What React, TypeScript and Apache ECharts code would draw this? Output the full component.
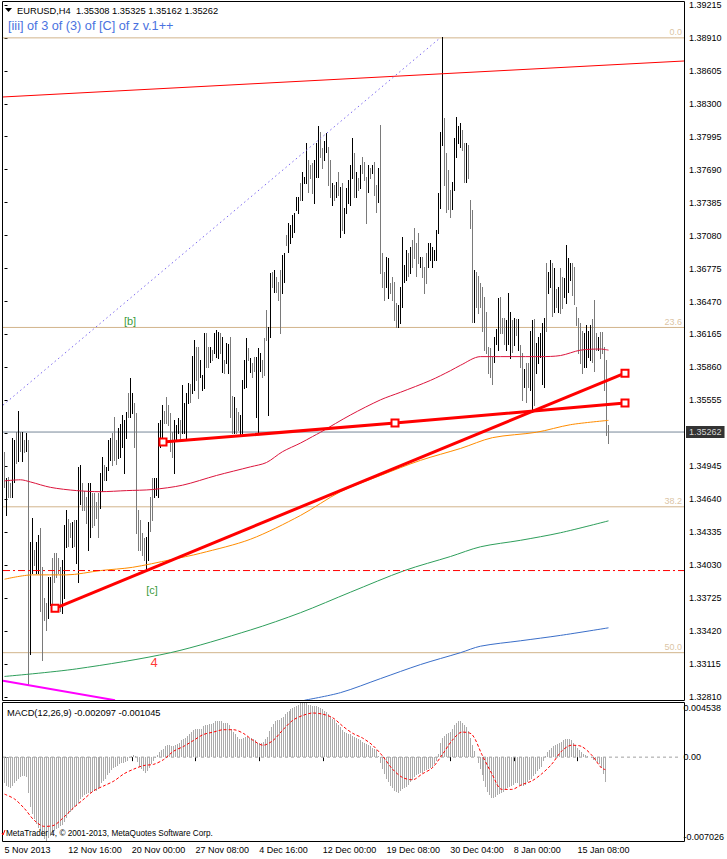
import React, { useEffect, useRef } from "react";
import * as echarts from "echarts";

// ---------- DATA ----------
const highs = [
  1.3508, 1.3484, 1.3485, 1.3479, 1.3521, 1.3519, 1.3526, 1.3546, 1.3526, 1.3526,
  1.3519, 1.3525, 1.3519, 1.3424, 1.3447, 1.3417, 1.3424, 1.3431, 1.3437, 1.3401,
  1.3373, 1.3368, 1.3392, 1.3392, 1.3410, 1.3414, 1.3414, 1.3410, 1.3401, 1.3408,
  1.3440, 1.3454, 1.3446, 1.3442, 1.3443, 1.3445, 1.3445, 1.3494, 1.3496, 1.3479,
  1.3472, 1.3466, 1.3479, 1.3479, 1.3470, 1.3470, 1.3461, 1.3470, 1.3488, 1.3503,
  1.3496, 1.3494, 1.3519, 1.3521, 1.3525, 1.3540, 1.3519, 1.3530, 1.3534, 1.3542,
  1.3537, 1.3545, 1.3562, 1.3576, 1.3562, 1.3553, 1.3544, 1.3454, 1.3445, 1.3433,
  1.3428, 1.3429, 1.3443, 1.3466, 1.3484, 1.3484, 1.3484, 1.3535, 1.3537, 1.3551,
  1.3546, 1.3559, 1.3551, 1.3544, 1.3526, 1.3537, 1.3533, 1.3539, 1.3537, 1.3570,
  1.3553, 1.3562, 1.3572, 1.3571, 1.3597, 1.3611, 1.3605, 1.3605, 1.3593, 1.3579,
  1.3618, 1.3618, 1.3605, 1.3605, 1.3602, 1.3618, 1.3621, 1.3619, 1.3618, 1.3614,
  1.3593, 1.3609, 1.3608, 1.3614, 1.3560, 1.3559, 1.3548, 1.3545, 1.3542, 1.3574,
  1.3593, 1.3613, 1.3604, 1.3595, 1.3590, 1.3596, 1.3596, 1.3604, 1.3599, 1.3593,
  1.3613, 1.3639, 1.3623, 1.3673, 1.3674, 1.3676, 1.3670, 1.3665, 1.3676, 1.3690,
  1.3692, 1.3709, 1.3720, 1.3718, 1.3727, 1.3729, 1.3744, 1.3744, 1.3757, 1.3767,
  1.3762, 1.3794, 1.3778, 1.3773, 1.3775, 1.3778, 1.3794, 1.3809, 1.3804, 1.3789,
  1.3796, 1.3803, 1.3790, 1.3778, 1.3757, 1.3755, 1.3758, 1.3767, 1.3753, 1.3757,
  1.3734, 1.3752, 1.3759, 1.3773, 1.3798, 1.3784, 1.3767, 1.3761, 1.3773, 1.3781,
  1.3776, 1.3762, 1.3773, 1.3771, 1.3773, 1.3776, 1.3755, 1.3771, 1.3810, 1.3692,
  1.3674, 1.3688, 1.3687, 1.3664, 1.3670, 1.3665, 1.3646, 1.3644, 1.3660, 1.3707,
  1.3681, 1.3695, 1.3692, 1.3697, 1.3704, 1.3715, 1.3701, 1.3710, 1.3688, 1.3688,
  1.3679, 1.3692, 1.3701, 1.3701, 1.3697, 1.3695, 1.3713, 1.3747, 1.3804, 1.3892,
  1.3817, 1.3784, 1.3769, 1.3750, 1.3758, 1.3798, 1.3818, 1.3809, 1.3812, 1.3806,
  1.3794, 1.3794, 1.3792, 1.3741, 1.3732, 1.3676, 1.3674, 1.3671, 1.3664, 1.3660,
  1.3651, 1.3637, 1.3605, 1.3604, 1.3596, 1.3614, 1.3622, 1.3650, 1.3651, 1.3632,
  1.3632, 1.3630, 1.3655, 1.3637, 1.3630, 1.3632, 1.3631, 1.3631, 1.3607, 1.3599,
  1.3585, 1.3590, 1.3590, 1.3620, 1.3630, 1.3631, 1.3609, 1.3614, 1.3618, 1.3627,
  1.3632, 1.3683, 1.3674, 1.3685, 1.3683, 1.3678, 1.3659, 1.3660, 1.3678, 1.3670,
  1.3669, 1.3699, 1.3687, 1.3683, 1.3683, 1.3679, 1.3642, 1.3632, 1.3627, 1.3620,
  1.3618, 1.3625, 1.3620, 1.3625, 1.3631, 1.3648, 1.3618, 1.3614, 1.3619, 1.3619,
  1.3605, 1.3593, 1.35325,
];

const lows = [
  1.3475, 1.3449, 1.3466, 1.3466, 1.3466, 1.3480, 1.3498, 1.3499, 1.3509, 1.3499,
  1.3508, 1.3509, 1.3293, 1.3321, 1.3396, 1.3403, 1.3396, 1.3396, 1.3361, 1.3315,
  1.3352, 1.3343, 1.3354, 1.3366, 1.3368, 1.3387, 1.3392, 1.3396, 1.3361, 1.3359,
  1.3373, 1.3420, 1.3421, 1.3429, 1.3420, 1.3421, 1.3405, 1.3387, 1.3460, 1.3454,
  1.3454, 1.3442, 1.3417, 1.3429, 1.3438, 1.3440, 1.3447, 1.3429, 1.3456, 1.3472,
  1.3482, 1.3482, 1.3491, 1.3500, 1.3496, 1.3500, 1.3497, 1.3502, 1.3503, 1.3512,
  1.3488, 1.3521, 1.3540, 1.3540, 1.3544, 1.3512, 1.3433, 1.3417, 1.3417, 1.3412,
  1.3408, 1.3398, 1.3408, 1.3435, 1.3445, 1.3466, 1.3468, 1.3466, 1.3512, 1.3516,
  1.3535, 1.3535, 1.3533, 1.3509, 1.3503, 1.3488, 1.3519, 1.3525, 1.3519, 1.3525,
  1.3525, 1.3519, 1.3553, 1.3554, 1.3562, 1.3565, 1.3574, 1.3558, 1.3577, 1.3565,
  1.3567, 1.3586, 1.3586, 1.3591, 1.3593, 1.3599, 1.3596, 1.3595, 1.3599, 1.3582,
  1.3581, 1.3590, 1.3581, 1.3540, 1.3525, 1.3525, 1.3525, 1.3528, 1.3523, 1.3525,
  1.3567, 1.3568, 1.3593, 1.3582, 1.3577, 1.3583, 1.3540, 1.3525, 1.3583, 1.3577,
  1.3579, 1.3611, 1.3542, 1.3614, 1.3660, 1.3656, 1.3656, 1.3648, 1.3618, 1.3655,
  1.3665, 1.3699, 1.3693, 1.3701, 1.3707, 1.3711, 1.3732, 1.3729, 1.3741, 1.3741,
  1.3757, 1.3757, 1.3748, 1.3761, 1.3747, 1.3738, 1.3762, 1.3762, 1.3781, 1.3771,
  1.3778, 1.3785, 1.3755, 1.3744, 1.3736, 1.3741, 1.3744, 1.3746, 1.3707, 1.3713,
  1.3710, 1.3729, 1.3738, 1.3736, 1.3761, 1.3744, 1.3744, 1.3750, 1.3752, 1.3766,
  1.3759, 1.3720, 1.3748, 1.3761, 1.3766, 1.3746, 1.3730, 1.3739, 1.3673, 1.3660,
  1.3648, 1.3660, 1.3650, 1.3655, 1.3648, 1.3630, 1.3623, 1.3623, 1.3627, 1.3642,
  1.3665, 1.3667, 1.3671, 1.3673, 1.3679, 1.3687, 1.3671, 1.3683, 1.3679, 1.3670,
  1.3655, 1.3664, 1.3679, 1.3685, 1.3679, 1.3685, 1.3685, 1.3710, 1.3734, 1.3792,
  1.3755, 1.3730, 1.3733, 1.3725, 1.3733, 1.3750, 1.3781, 1.3794, 1.3790, 1.3787,
  1.3758, 1.3758, 1.3761, 1.3715, 1.3628, 1.3628, 1.3642, 1.3636, 1.3642, 1.3620,
  1.3602, 1.3599, 1.3581, 1.3577, 1.3571, 1.3591, 1.3608, 1.3602, 1.3618, 1.3618,
  1.3608, 1.3602, 1.3608, 1.3595, 1.3600, 1.3607, 1.3616, 1.3602, 1.3586, 1.3556,
  1.3568, 1.3554, 1.3568, 1.3565, 1.3545, 1.3551, 1.3581, 1.3590, 1.3596, 1.3571,
  1.3568, 1.3620, 1.3655, 1.3660, 1.3634, 1.3637, 1.3642, 1.3637, 1.3636, 1.3641,
  1.3651, 1.3646, 1.3656, 1.3667, 1.3653, 1.3645, 1.3625, 1.3599, 1.3590, 1.3581,
  1.3586, 1.3586, 1.3596, 1.3593, 1.3591, 1.3583, 1.3602, 1.3602, 1.3595, 1.3599,
  1.3565, 1.3523, 1.35162,
];

// 1 = bull bar (black), 0 = bear bar (grey)
const upBars = [
  0, 1, 0, 0, 1, 1, 0, 1, 0, 1,
  0, 1, 0, 1, 1, 0, 1, 1, 0, 0,
  0, 0, 1, 1, 0, 0, 0, 0, 0, 1,
  1, 1, 0, 0, 1, 0, 1, 1, 1, 0,
  0, 0, 1, 1, 0, 0, 0, 0, 1, 1,
  0, 1, 1, 1, 0, 0, 0, 1, 1, 1,
  1, 1, 0, 1, 1, 0, 0, 0, 0, 0,
  0, 1, 1, 0, 0, 1, 1, 1, 1, 1,
  0, 0, 0, 0, 0, 1, 1, 1, 0, 1,
  1, 1, 1, 0, 1, 1, 0, 0, 1, 1,
  1, 0, 0, 1, 0, 1, 1, 1, 0, 1,
  0, 1, 1, 0, 0, 1, 0, 0, 1, 1,
  1, 1, 0, 1, 0, 0, 1, 1, 1, 0,
  0, 0, 1, 1, 0, 1, 0, 0, 0, 1,
  1, 0, 1, 1, 1, 1, 1, 1, 0, 1,
  1, 1, 0, 0, 0, 1, 1, 1, 0, 0,
  1, 1, 0, 0, 1, 0, 1, 0, 1, 0,
  1, 1, 1, 1, 1, 0, 1, 0, 1, 0,
  0, 0, 1, 0, 1, 0, 0, 1, 0, 0,
  0, 1, 1, 0, 0, 0, 0, 1, 1, 1,
  1, 1, 0, 1, 0, 0, 0, 0, 1, 0,
  0, 0, 1, 1, 1, 1, 1, 1, 1, 1,
  0, 0, 0, 0, 1, 1, 1, 1, 1, 0,
  0, 1, 0, 0, 0, 1, 0, 0, 0, 0,
  0, 0, 0, 0, 0, 1, 1, 1, 0, 0,
  0, 1, 1, 1, 0, 1, 0, 1, 0, 0,
  1, 0, 0, 1, 1, 0, 1, 1, 1, 1,
  1, 0, 1, 1, 0, 1, 0, 1, 0, 0,
  1, 1, 1, 1, 0, 0, 0, 0, 0, 0,
  1, 1, 1, 1, 0, 0, 0, 1, 0, 0,
  0, 0, 0,
];

const macdMain = [
  -0.0022, -0.0024, -0.0025, -0.0026, -0.0024, -0.0022, -0.0020, -0.0018, -0.0017, -0.0016, -0.0016,
  -0.0017, -0.0030, -0.0042, -0.0048, -0.0052,
  -0.0056, -0.0059, -0.0062, -0.0066, -0.0069, -0.0070, -0.0068, -0.0066, -0.0064, -0.0062, -0.0060, -0.0059, -0.0058, -0.0057, -0.0054,
  -0.0051, -0.0048, -0.0046, -0.0044, -0.0042, -0.0041, -0.0038, -0.0035, -0.0033, -0.0032, -0.0031, -0.0030, -0.0030, -0.0029, -0.0028, -0.0028, -0.0027, -0.0025, -0.0022, -0.0020,
  -0.0018, -0.0015, -0.0013, -0.0011, -0.0009, -0.0008, -0.0007, -0.0006, -0.0005, -0.0005, -0.0004, -0.0003, -0.0001, 0.0001, 0.0002, 0.0001, -0.0004, -0.0008, -0.0010, -0.0012,
  -0.0013, -0.0012, -0.0009, -0.0006, -0.0003, -0.0001, 0.0002, 0.0004, 0.0006, 0.0007,
  0.0009, 0.0010, 0.0010, 0.0009, 0.0009, 0.0010, 0.0011, 0.0012, 0.0014, 0.0015, 0.0016, 0.0018, 0.0019, 0.0021, 0.0023, 0.0024, 0.0024, 0.0024, 0.0024, 0.0026,
  0.0027, 0.0027, 0.0028, 0.0028, 0.0029, 0.0030, 0.0030, 0.0030, 0.0030, 0.0029, 0.0029, 0.0029, 0.0027, 0.0024, 0.0021, 0.0019, 0.0017, 0.0015, 0.0015, 0.0016, 0.0017, 0.0017, 0.0016, 0.0016, 0.0015,
  0.0014, 0.0012, 0.0012, 0.0012, 0.0013, 0.0015, 0.0017, 0.0022, 0.0025, 0.0028,
  0.0030, 0.0031, 0.0031, 0.0033, 0.0034, 0.0036, 0.0038, 0.0039, 0.0040, 0.0041, 0.0042, 0.0043, 0.0044, 0.0045, 0.0045,
  0.0045, 0.0045, 0.0044, 0.0044, 0.0043, 0.0043, 0.0043, 0.0042, 0.0041, 0.0040, 0.0039, 0.0038, 0.0036, 0.0034, 0.0032,
  0.0031, 0.0029, 0.0027, 0.0025, 0.0023, 0.0021, 0.0020, 0.0019, 0.0019, 0.0018, 0.0017, 0.0016, 0.0015, 0.0014, 0.0013, 0.0012, 0.0011, 0.0010, 0.0009, 0.0008, 0.0007, 0.0006,
  0.0001, -0.0005, -0.0010, -0.0014, -0.0018, -0.0021, -0.0024, -0.0026, -0.0028, -0.0029, -0.0030, -0.0028, -0.0027,
  -0.0026, -0.0025, -0.0023, -0.0021, -0.0019, -0.0017, -0.0015, -0.0014, -0.0013, -0.0013, -0.0012, -0.0011, -0.0010, -0.0009, -0.0008, -0.0006, -0.0003,
  0.0003, 0.0012, 0.0016, 0.0018, 0.0019, 0.0020, 0.0021, 0.0024, 0.0027, 0.0029, 0.0030, 0.0030, 0.0029, 0.0027, 0.0025,
  0.0022, 0.0016, 0.0010, 0.0005, 0.0000, -0.0005, -0.0010, -0.0015, -0.0020, -0.0025, -0.0029, -0.0032, -0.0034, -0.0034, -0.0033, -0.0032, -0.0031, -0.0030,
  -0.0029, -0.0027, -0.0026, -0.0025, -0.0024, -0.0023, -0.0022, -0.0022, -0.0023, -0.0024, -0.0024, -0.0023, -0.0021, -0.0019, -0.0018, -0.0016, -0.0014, -0.0012, -0.0010, -0.0008,
  -0.0003, 0.0001, 0.0004, 0.0006, 0.0008, 0.0009, 0.0010, 0.0011, 0.0012, 0.0013, 0.0014, 0.0015, 0.0015, 0.0015, 0.0014, 0.0012, 0.0010, 0.0008, 0.0006, 0.0004,
  0.0003, 0.0002, 0.0001, 0.0000, -0.0001, -0.0002, -0.0003, -0.0004, -0.0006, -0.0009, -0.0014, -0.002097,
];

// [bar index, value]
const macdSignal = [
  [0, -0.0031], [5, -0.0035], [10, -0.0043], [15, -0.0053], [20, -0.0058], [25, -0.0057], [30, -0.005],
  [35, -0.0042], [40, -0.0035], [45, -0.0028], [50, -0.0024], [55, -0.002], [60, -0.0014], [65, -0.001],
  [70, -0.0007], [75, -0.0006], [80, -0.0002], [85, 0.0005], [90, 0.0009], [95, 0.0014], [100, 0.0019],
  [105, 0.0021], [110, 0.0023], [115, 0.0023], [120, 0.002], [125, 0.0014], [130, 0.001], [135, 0.0014],
  [140, 0.0023], [145, 0.0031], [150, 0.0035], [155, 0.0037], [160, 0.0036], [165, 0.0033], [170, 0.0026],
  [175, 0.002], [180, 0.0016], [185, 0.001], [190, 0.0001], [195, -0.001], [200, -0.0017], [205, -0.0019],
  [210, -0.0014], [215, -0.0009], [220, 0.0002], [225, 0.0014], [230, 0.0021], [235, 0.0019], [240, 0.0002],
  [245, -0.0014], [250, -0.0027], [255, -0.0027], [260, -0.0023], [265, -0.002], [270, -0.0014],
  [275, -0.0006], [280, 0.0005], [285, 0.001], [290, 0.0009], [295, 0.0002], [300, -0.0009], [302, -0.001045],
];

// moving averages: [bar index, price]
const maCrimson = [
  [0, 1.3481], [8, 1.3482], [13, 1.348], [23, 1.3475], [36, 1.3472], [48, 1.3471], [61, 1.3472],
  [74, 1.3473], [89, 1.3477], [106, 1.3486], [123, 1.3494], [131, 1.3498], [139, 1.3508], [148, 1.3516],
  [154, 1.3522], [158, 1.3526], [173, 1.3542], [188, 1.3556], [198, 1.3563], [213, 1.3574], [223, 1.3583],
  [228, 1.3588], [238, 1.3596], [258, 1.3596], [268, 1.3596], [278, 1.3597], [288, 1.3602], [298, 1.3603],
  [302, 1.3602],
];
const maOrange = [
  [0, 1.339], [14, 1.3394], [31, 1.3394], [48, 1.3398], [64, 1.3401], [83, 1.3408], [98, 1.3414],
  [123, 1.3427], [148, 1.3449], [168, 1.3471], [188, 1.3486], [208, 1.35], [228, 1.3511], [244, 1.3521],
  [266, 1.3526], [283, 1.3533], [302, 1.3537],
];
const maGreen = [
  [0, 1.33], [36, 1.3307], [83, 1.3322], [123, 1.3343], [148, 1.3359], [173, 1.3378], [200, 1.3398],
  [223, 1.3411], [238, 1.342], [258, 1.3426], [278, 1.3433], [302, 1.3444],
];
const maBlue = [
  [150, 1.3278], [168, 1.3285], [188, 1.3298], [208, 1.3311], [228, 1.3322], [238, 1.3328], [258, 1.3333],
  [278, 1.3338], [302, 1.3345],
];

// drawn objects
const channelLine = [[-0.75, 1.38363], [339.75, 1.38696]];
const dottedLine = [[-0.75, 1.35511], [217.75, 1.38909]];
const magentaLine = [[-0.75, 1.3296], [55.25, 1.3278]];
const trendLine1 = [[25.25, 1.33631], [310.25, 1.35807]];
const trendLine2 = [[79.25, 1.35169], [195.25, 1.35345], [310.25, 1.35531]];

const fibNames = ["0.0", "23.6", "38.2", "50.0"];
const fibPrices = [1.3891, 1.3623, 1.3457, 1.3322];
const dashDotLevel = 1.3398;
const lastPrice = 1.35262;

const waveLabels = ["[b]", "[c]", "4"];
const waveLabelPos = [[62.75, 1.36289], [73.75, 1.33798], [74.75, 1.33131]];
const waveLabelColors = ["#008000", "#008000", "#FF0000"];

const priceTicks = [
  1.3281, 1.33115, 1.3342, 1.33725, 1.3403, 1.34335, 1.3464, 1.34945, 1.3525, 1.35555, 1.3586,
  1.36165, 1.3647, 1.36775, 1.3708, 1.37385, 1.3769, 1.37995, 1.383, 1.38605, 1.3891, 1.39215,
];
const xLabelBars = [0, 32, 64, 96, 128, 160, 192, 224, 256, 288];
const xLabels = [
  "5 Nov 2013", "12 Nov 16:00", "20 Nov 00:00", "27 Nov 08:00", "4 Dec 16:00",
  "12 Dec 00:00", "19 Dec 08:00", "30 Dec 04:00", "8 Jan 00:00", "15 Jan 08:00",
];

// ---------- layout ----------
const FONT = "'Liberation Sans', Arial, sans-serif";
const X_MIN = -0.75;
const X_MAX = 339.75;
const Y_MIN = 1.32782;
const Y_MAX = 1.39242;
const MACD_MIN = -0.007026;
const MACD_MAX = 0.004538;

function buildOption() {
  const barData = highs.map((h, i) => [i, h, lows[i], upBars[i]]);
  const histData = macdMain.map((v, i) => [i, v]);
  const priceLabelTicks = priceTicks.filter((t) => Math.abs(t - 1.3525) > 1e-6);

  const lineSeries = (data: number[][], color: string, width: number, extra: any = {}) => ({
    type: "line",
    xAxisIndex: 0,
    yAxisIndex: 0,
    data,
    showSymbol: false,
    symbol: "none",
    silent: true,
    z: 3,
    lineStyle: { color, width },
    ...extra,
  });

  const hLine = (price: number, color: string, type: any, z = 3) =>
    lineSeries([[X_MIN, price], [X_MAX, price]], color, 1, { z, lineStyle: { color, width: 1, type } });

  const trendStyle = {
    showSymbol: true,
    symbol: "rect",
    symbolSize: 7,
    itemStyle: { color: "#ffffff", borderColor: "#FF0000", borderWidth: 2 },
    z: 5,
  };

  return {
    animation: false,
    backgroundColor: "#ffffff",
    textStyle: { fontFamily: FONT },
    grid: [
      { left: 3, top: 2, width: 681, height: 698 },
      { left: 3, top: 703, width: 681, height: 138 },
    ],
    xAxis: [
      { gridIndex: 0, type: "value", min: X_MIN, max: X_MAX, show: false },
      {
        gridIndex: 1,
        type: "value",
        min: X_MIN,
        max: X_MAX,
        splitLine: { show: false },
        axisLine: { show: false },
        axisTick: { show: true, length: 4, customValues: xLabelBars, lineStyle: { color: "#000" } },
        axisLabel: {
          customValues: xLabelBars,
          formatter: (v: number) => xLabels[xLabelBars.indexOf(Math.round(v))] ?? "",
          align: "left",
          margin: 4,
          fontSize: 9,
          color: "#000",
          fontFamily: FONT,
        },
      },
    ],
    yAxis: [
      {
        gridIndex: 0,
        type: "value",
        position: "right",
        min: Y_MIN,
        max: Y_MAX,
        splitLine: { show: false },
        axisLine: { show: false },
        axisTick: { show: true, length: 3, customValues: priceTicks, lineStyle: { color: "#000" } },
        axisLabel: {
          customValues: priceLabelTicks,
          formatter: (v: number) => v.toFixed(5),
          margin: 5,
          fontSize: 9,
          color: "#000",
          fontFamily: FONT,
        },
      },
      {
        gridIndex: 1,
        type: "value",
        position: "right",
        min: MACD_MIN,
        max: MACD_MAX,
        splitLine: { show: false },
        axisLine: { show: false },
        axisTick: { show: true, length: 3, customValues: [0], lineStyle: { color: "#000" } },
        axisLabel: {
          customValues: [MACD_MIN, 0, MACD_MAX],
          formatter: (v: number) => (Math.abs(v) < 1e-9 ? "0.00" : v.toFixed(6)),
          margin: 3,
          fontSize: 9,
          color: "#000",
          fontFamily: FONT,
          verticalAlignMinLabel: "bottom",
          verticalAlignMaxLabel: "top",
        },
      },
    ],
    series: [
      // horizontal objects (under the bars)
      ...fibPrices.map((p) => hLine(p, "#D2B48C", "solid", 1)),
      hLine(dashDotLevel, "#FF0000", [7, 3, 2, 3], 4),
      hLine(lastPrice, "#778899", "solid", 1),
      // price bars
      {
        type: "custom",
        xAxisIndex: 0,
        yAxisIndex: 0,
        silent: true,
        z: 2,
        data: barData,
        encode: { x: 0, y: [1, 2] },
        renderItem: (_p: any, api: any) => {
          const i = api.value(0);
          const a = api.coord([i, api.value(1)]);
          const b = api.coord([i, api.value(2)]);
          const x = Math.floor(a[0]) + 0.5;
          return {
            type: "line",
            shape: { x1: x, y1: Math.round(a[1]), x2: x, y2: Math.round(b[1]) + 1 },
            style: { stroke: api.value(3) ? "#000000" : "#7a7a7a", lineWidth: 1 },
          };
        },
      },
      // moving averages
      lineSeries(maCrimson, "#DC143C", 1, { smooth: 0.3 }),
      lineSeries(maOrange, "#FF8C00", 1, { smooth: 0.3 }),
      lineSeries(maGreen, "#2E9E5B", 1, { smooth: 0.3 }),
      lineSeries(maBlue, "#3A6EC8", 1, { smooth: 0.3 }),
      // drawn objects
      lineSeries(channelLine, "#FF0000", 1),
      lineSeries(dottedLine, "#7B68EE", 1, { lineStyle: { color: "#7B68EE", width: 1, type: [1.5, 3] } }),
      lineSeries(magentaLine, "#FF00FF", 2),
      lineSeries(trendLine1, "#FF0000", 3, trendStyle),
      lineSeries(trendLine2, "#FF0000", 3, trendStyle),
      // fibo level captions
      {
        type: "scatter",
        xAxisIndex: 0,
        yAxisIndex: 0,
        silent: true,
        symbolSize: 0,
        z: 6,
        data: fibPrices.map((p, k) => ({
          value: [338.75, p],
          label: {
            show: true,
            position: "top",
            align: "right",
            distance: 1,
            formatter: fibNames[k],
            color: "#D2B48C",
            fontSize: 9,
            fontFamily: FONT,
          },
        })),
      },
      // current price box
      {
        type: "scatter",
        xAxisIndex: 0,
        yAxisIndex: 0,
        silent: true,
        symbolSize: 0,
        z: 7,
        data: [
          {
            value: [X_MAX, lastPrice],
            label: {
              show: true,
              position: "right",
              distance: 2,
              formatter: lastPrice.toFixed(5),
              color: "#ffffff",
              backgroundColor: "#000000",
              padding: [2, 3, 1, 3],
              fontSize: 9,
              fontFamily: FONT,
            },
          },
        ],
      },
      // wave labels
      {
        type: "scatter",
        xAxisIndex: 0,
        yAxisIndex: 0,
        silent: true,
        symbolSize: 0,
        z: 6,
        data: waveLabels.map((t, k) => ({
          value: waveLabelPos[k],
          label: {
            show: true,
            position: "inside",
            formatter: t,
            color: waveLabelColors[k],
            fontSize: k === 2 ? 13 : 11,
            fontFamily: FONT,
          },
        })),
      },
      // MACD histogram
      {
        type: "custom",
        xAxisIndex: 1,
        yAxisIndex: 1,
        silent: true,
        z: 2,
        data: histData,
        encode: { x: 0, y: 1 },
        renderItem: (_p: any, api: any) => {
          const i = api.value(0);
          const a = api.coord([i, 0]);
          const b = api.coord([i, api.value(1)]);
          const x = Math.floor(a[0]) + 0.5;
          return {
            type: "line",
            shape: { x1: x, y1: Math.round(a[1]), x2: x, y2: Math.round(b[1]) },
            style: { stroke: "#ABABAB", lineWidth: 1 },
          };
        },
      },
      {
        type: "line",
        xAxisIndex: 1,
        yAxisIndex: 1,
        data: [[X_MIN, 0], [X_MAX, 0]],
        showSymbol: false,
        symbol: "none",
        silent: true,
        z: 1,
        lineStyle: { color: "#A0A0A0", width: 1, type: [3, 3] },
      },
      {
        type: "line",
        xAxisIndex: 1,
        yAxisIndex: 1,
        data: macdSignal,
        showSymbol: false,
        symbol: "none",
        silent: true,
        smooth: 0.3,
        z: 3,
        lineStyle: { color: "#FF0000", width: 1, type: [3, 2] },
      },
    ],
    graphic: [
      { type: "rect", silent: true, shape: { x: 2.5, y: 1.5, width: 682, height: 699 }, style: { fill: "none", stroke: "#000", lineWidth: 1 }, z: 10 },
      { type: "rect", silent: true, shape: { x: 2.5, y: 702.5, width: 682, height: 139 }, style: { fill: "none", stroke: "#000", lineWidth: 1 }, z: 10 },
      { type: "polygon", silent: true, shape: { points: [[5, 8], [12, 8], [8.5, 12]] }, style: { fill: "#000" }, z: 10 },
      { type: "text", silent: true, z: 10, style: { x: 17, y: 11, text: "EURUSD,H4  1.35308 1.35325 1.35162 1.35262", fill: "#000", fontSize: 9.3, fontFamily: FONT, verticalAlign: "middle" } },
      { type: "text", silent: true, z: 10, style: { x: 8, y: 26, text: "[iii] of 3 of (3) of [C] of z v.1++", fill: "#4A72E0", fontSize: 12.7, fontFamily: FONT, verticalAlign: "middle" } },
      { type: "text", silent: true, z: 10, style: { x: 7, y: 713, text: "MACD(12,26,9) -0.002097 -0.001045", fill: "#000", fontSize: 9.3, fontFamily: FONT, verticalAlign: "middle" } },
      { type: "polyline", silent: true, z: 10, shape: { points: [[2, 833], [3, 835], [5, 830]] }, style: { stroke: "#FF0000", lineWidth: 1, fill: "none" } },
      { type: "text", silent: true, z: 10, style: { x: 6, y: 833, text: "MetaTrader 4, © 2001-2013, MetaQuotes Software Corp.", fill: "#000", fontSize: 8.2, fontFamily: FONT, verticalAlign: "middle" } },
    ],
  };
}

export default function App() {
  const ref = useRef<HTMLDivElement>(null);
  useEffect(() => {
    if (!ref.current) return;
    const chart = echarts.init(ref.current, null, { renderer: "svg" });
    chart.setOption(buildOption() as any);
    return () => chart.dispose();
  }, []);
  return (
    <div
      ref={ref}
      style={{ position: "absolute", left: 0, top: 0, width: 727, height: 859, background: "#fff" }}
    />
  );
}
